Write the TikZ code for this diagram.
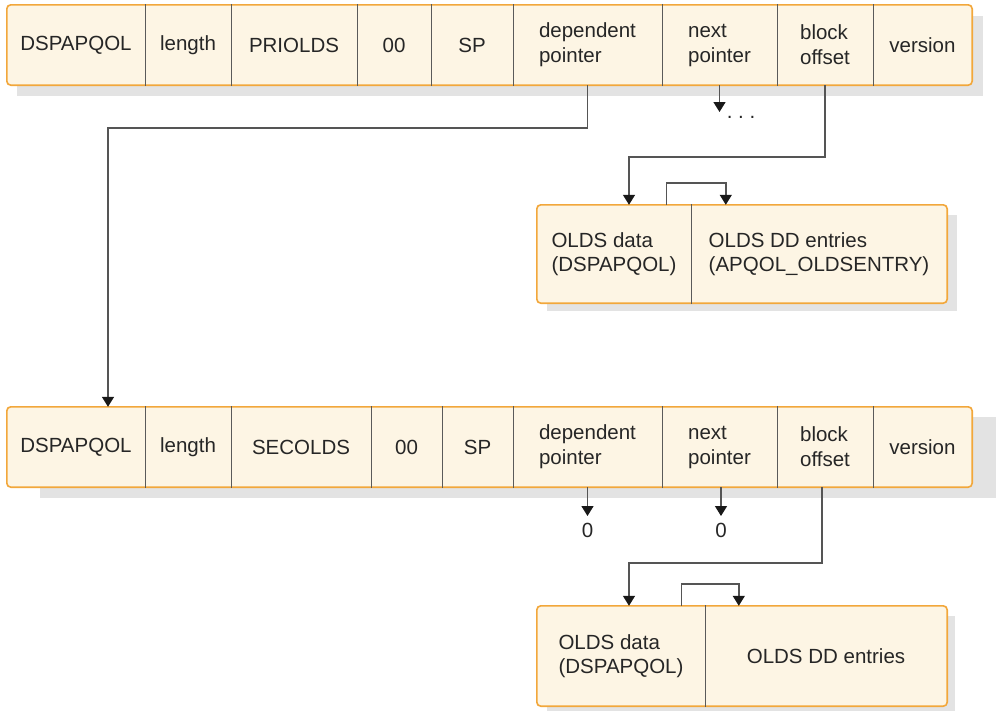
\documentclass[tikz,border=0pt]{standalone}
\usepackage{fontspec}
\setmainfont{Liberation Sans}
\usetikzlibrary{arrows.meta,backgrounds}
\definecolor{boxfill}{HTML}{FDF5E4}
\definecolor{boxedge}{HTML}{F2A73B}
\definecolor{divcol}{HTML}{5A5A5A}
\definecolor{linecol}{HTML}{555555}
\definecolor{shadowcol}{HTML}{E3E3E3}
\tikzset{
  cell/.style={inner sep=0pt, align=left, minimum height=80pt, font=\fontsize{20.5}{25}\selectfont, text=black!85},
  ocell/.style={inner sep=0pt, align=left, minimum height=98pt, font=\fontsize{20.5}{24}\selectfont, text=black!85},
  frame/.style={draw=boxedge, fill=boxfill, line width=1.6pt, rounded corners=4pt},
  shadowbox/.style={fill=shadowcol, draw=none},
  divider/.style={draw=divcol, line width=1.3pt},
  conn/.style={draw=linecol, line width=1.4pt},
  arr/.style={conn, -{Triangle[width=12pt,length=10pt,color=black!90]}},
  lbl/.style={inner sep=0pt, font=\fontsize{20.5}{24}\selectfont, text=black!85}
}
\begin{document}
\begin{tikzpicture}[x=1pt,y=-1pt]
\useasboundingbox (0,0) rectangle (996,710);
% ---------- top row ----------
\node[cell, minimum width=138pt] (a1) at (76,45) {DSPAPQOL};
\node[cell, minimum width=86pt]  (a2) at (188,45) {length};
\node[cell, minimum width=126pt] (a3) at (294,45) {PRIOLDS};
\node[cell, minimum width=74pt]  (a4) at (394,45) {00};
\node[cell, minimum width=82pt]  (a5) at (472,45) {SP};
\node[cell, minimum width=149pt] (a6) at (587.5,45) {dependent\\pointer};
\node[cell, minimum width=115pt] (a7) at (719.5,45) {next\\pointer};
\node[cell, minimum width=96pt]  (a8) at (825,45) {block\\offset};
\node[cell, minimum width=99pt]  (a9) at (922.5,45) {version};
% ---------- second row ----------
\node[cell, minimum width=138pt] (b1) at (76,447) {DSPAPQOL};
\node[cell, minimum width=86pt]  (b2) at (188,447) {length};
\node[cell, minimum width=140pt] (b3) at (301,447) {SECOLDS};
\node[cell, minimum width=71pt]  (b4) at (406.5,447) {00};
\node[cell, minimum width=71pt]  (b5) at (477.5,447) {SP};
\node[cell, minimum width=149pt] (b6) at (587.5,447) {dependent\\pointer};
\node[cell, minimum width=115pt] (b7) at (719.5,447) {next\\pointer};
\node[cell, minimum width=96pt]  (b8) at (825,447) {block\\offset};
\node[cell, minimum width=99pt]  (b9) at (922.5,447) {version};
% ---------- OLDS box 1 ----------
\node[ocell, minimum width=154pt] (c1) at (614,254) {OLDS data\\(DSPAPQOL)};
\node[ocell, minimum width=256pt] (c2) at (819,254) {OLDS DD entries\\(APQOL\_OLDSENTRY)};
% ---------- OLDS box 2 ----------
\node[ocell, minimum width=168pt, minimum height=100pt] (d1) at (621,656) {OLDS data\\(DSPAPQOL)};
\node[ocell, minimum width=242pt, minimum height=100pt] (d2) at (826,656) {OLDS DD entries};
% ---------- frames and shadows ----------
\begin{scope}[on background layer]
  \fill[shadowbox] ([shift={(10,11)}]a1.north west) rectangle ([shift={(11,11)}]a9.south east);
  \fill[shadowbox] ([shift={(33,10)}]b1.north west) rectangle ([shift={(24,11)}]b9.south east);
  \fill[shadowbox] ([shift={(10,10)}]c1.north west) rectangle ([shift={(10,8)}]c2.south east);
  \fill[shadowbox] ([shift={(10,10)}]d1.north west) rectangle ([shift={(8,6)}]d2.south east);
  \draw[frame] (a1.north west) rectangle (a9.south east);
  \draw[frame] (b1.north west) rectangle (b9.south east);
  \draw[frame] (c1.north west) rectangle (c2.south east);
  \draw[frame] (d1.north west) rectangle (d2.south east);
\end{scope}
% dividers
\foreach \n in {a1,a2,a3,a4,a5,a6,a7,a8,b1,b2,b3,b4,b5,b6,b7,b8,c1,d1}
  \draw[divider] ([yshift=0.8pt]\n.north east) -- ([yshift=-0.8pt]\n.south east);
% ---------- connectors ----------
\coordinate (k1) at (587.5,128);
\draw[arr] (a6.south) -- (k1) -| ([xshift=32pt]b1.north);
\coordinate (n1) at (719.5,112);
\draw[arr] (a7.south) -- (n1);
\node[lbl] (dots) at (741,117) {.\ .\ .};
\coordinate (k2) at (825,157);
\draw[arr] (a8.south) -- (k2) -| ([xshift=15pt]c1.north);
\draw[arr] ([xshift=-25pt]c1.north east) -- ++(0,-22) -| ([xshift=35pt]c2.north west);
% row 2
\coordinate (z1t) at (587.5,516);
\coordinate (z2t) at (721,516);
\draw[arr] (b6.south) -- (z1t);
\draw[arr] ([xshift=1.5pt]b7.south) -- (z2t);
\node[lbl] (z1) at (587.5,530) {0};
\node[lbl] (z2) at (721,530) {0};
\coordinate (k3) at (822,563);
\draw[arr] ([xshift=-3pt]b8.south) -- (k3) -| ([xshift=8pt]d1.north);
\draw[arr] ([xshift=-24pt]d1.north east) -- ++(0,-22) -| ([xshift=34pt]d2.north west);
\end{tikzpicture}
\end{document}
